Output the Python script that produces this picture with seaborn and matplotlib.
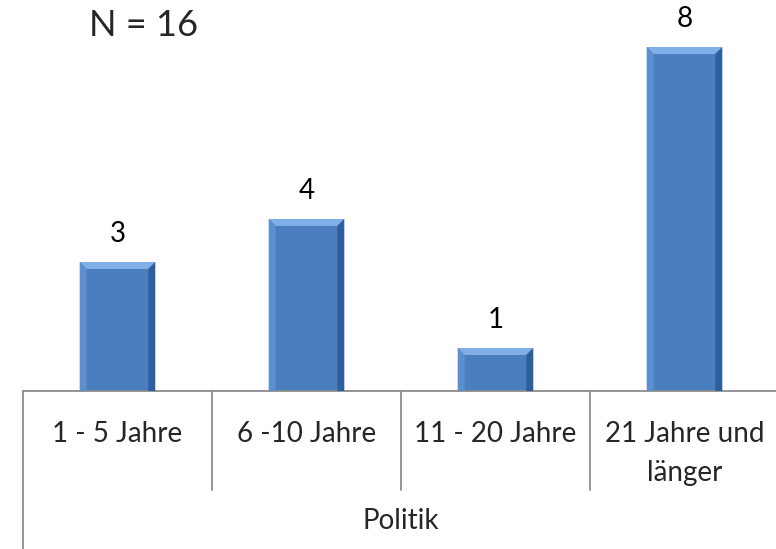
import matplotlib
matplotlib.use("Agg")
import matplotlib.pyplot as plt
import seaborn as sns
import pandas as pd
from matplotlib.patches import Polygon
from matplotlib.lines import Line2D

# --------------------------------------------------
# DATA
# --------------------------------------------------

categories = ["1 - 5 Jahre", "6 -10 Jahre", "11 - 20 Jahre", "21 Jahre und\nlänger"]
counts = [3, 4, 1, 8]
group_label = "Politik"
n_label = "N = 16"

df = pd.DataFrame({"Kategorie": categories, "Anzahl": counts})

# --------------------------------------------------
# STYLE
# --------------------------------------------------

sns.set_style("white")
plt.rcParams["font.family"] = ["Lato", "DejaVu Sans"]

W, H = 776, 549
fig = plt.figure(figsize=(W / 100, H / 100), dpi=100)

ax_left, ax_right = 23, 779
ax_bottom = 391
ax = fig.add_axes([ax_left / W, 1 - ax_bottom / H, (ax_right - ax_left) / W, ax_bottom / H])

sns.barplot(data=df, x="Kategorie", y="Anzahl", color="#4A7EBF", width=0.4,
            saturation=1, ax=ax, edgecolor="none")

px_y = 43.0
ax.set_ylim(0, ax_bottom / px_y)
ax.set_xlim(-0.5, 3.5)
ax.set_xlabel("")
ax.set_ylabel("")
ax.set_xticks([])
ax.set_yticks([])
for s in ["top", "right", "left"]:
    ax.spines[s].set_visible(False)
ax.spines["bottom"].set_color("#8c8c8c")
ax.spines["bottom"].set_linewidth(1.3)

# bevel overlay derived from each bar patch
px_x = (ax_right - ax_left) / 4.0
bx = 7 / px_x
by = 7 / px_y
for p in ax.patches:
    x0, w, h = p.get_x(), p.get_width(), p.get_height()
    x1 = x0 + w
    top = Polygon([(x0, h), (x1, h), (x1 - bx, h - by), (x0 + bx, h - by)],
                  closed=True, facecolor="#80AEE6", edgecolor="none", zorder=3)
    left = Polygon([(x0, 0), (x0, h), (x0 + bx, h - by), (x0 + bx, 0)],
                   closed=True, facecolor="#5B8FD0", edgecolor="none", zorder=3)
    right = Polygon([(x1, 0), (x1, h), (x1 - bx, h - by), (x1 - bx, 0)],
                    closed=True, facecolor="#2F5E9C", edgecolor="none", zorder=3)
    ax.add_patch(top)
    ax.add_patch(left)
    ax.add_patch(right)
    ax.text(x0 + w / 2, h + 28 / px_y, f"{int(h)}", ha="center", va="center",
            fontsize=20, color="black")

# category labels and separators below the axis
trans = ax.get_xaxis_transform()
for i, cat in enumerate(categories):
    ax.text(i, -(421 - ax_bottom) / ax_bottom, cat, transform=trans, ha="center", va="top",
            fontsize=20, linespacing=1.6, clip_on=False)

sep_bottom = (490 - ax_bottom) / ax_bottom
for xs in [0.5, 1.5, 2.5]:
    ax.add_line(Line2D([xs, xs], [0, -sep_bottom], transform=trans,
                       color="#8c8c8c", lw=1.3, clip_on=False))
ax.add_line(Line2D([-0.5, -0.5], [0, -(H - ax_bottom) / ax_bottom], transform=trans,
                   color="#8c8c8c", lw=1.3, clip_on=False))

fig.text(0.5 * (ax_left + ax_right) / W, 1 - 521 / H, group_label,
         ha="center", va="center", fontsize=20)
fig.text(144 / W, 1 - 26 / H, n_label, ha="center", va="center", fontsize=26)

fig.savefig("out.png", dpi=100)
